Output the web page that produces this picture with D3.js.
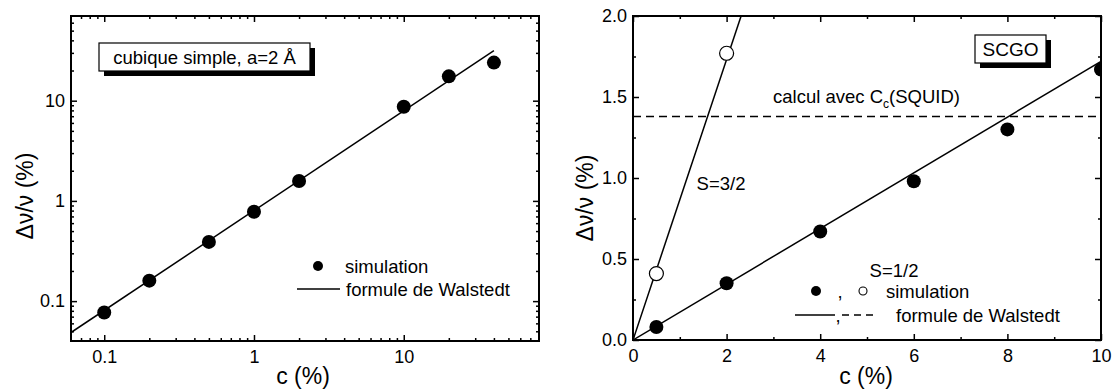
<!DOCTYPE html>
<html><head><meta charset="utf-8">
<script src="https://cdn.jsdelivr.net/npm/d3@7"></script>
<style>
body{margin:0;background:#fff;}
svg{display:block;font-family:"Liberation Sans",Arial,Helvetica,sans-serif;}
</style></head><body>
<svg id="c" width="1112" height="390"></svg>
<script>
// ---- Left panel data (log-log) ----
const leftC = [0.1, 0.2, 0.5, 1, 2, 10, 20, 40];
const leftDv = [0.077, 0.16, 0.39, 0.78, 1.58, 8.7, 17.5, 24];
const leftFitC = [0.06, 40];
const leftFitDv = [0.0486, 31.6];
const leftXMajor = [0.1, 1, 10];
const leftYMajor = [0.1, 1, 10];
const leftXLabels = ["0.1", "1", "10"];
const leftYLabels = ["0.1", "1", "10"];

// ---- Right panel data (linear) ----
const rightFilledC = [0.5, 2, 4, 6, 8, 10];
const rightFilledDv = [0.08, 0.35, 0.67, 0.98, 1.30, 1.67];
const rightOpenC = [0.5, 2];
const rightOpenDv = [0.41, 1.77];
const rightFitHalfC = [0, 10];
const rightFitHalfDv = [0, 1.72];
const rightFitThreeC = [0, 2.31];
const rightFitThreeDv = [0, 2.0];
const rightSquidDv = 1.38;
const rightXMajor = [0, 2, 4, 6, 8, 10];
const rightXMinor = [1, 3, 5, 7, 9];
const rightYMajor = [0, 0.5, 1.0, 1.5, 2.0];
const rightYMinor = [0.25, 0.75, 1.25, 1.75];

const svg = d3.select("#c");
const TICKFS = 18, TITLEFS = 23, TXTFS = 18.5;

function minorLog(lo, hi){
  const out=[];
  for(let e=Math.floor(Math.log10(lo)); e<=Math.ceil(Math.log10(hi)); e++){
    for(let m=2;m<=9;m++){const v=m*Math.pow(10,e); if(v>lo*1.0001 && v<hi*0.9999) out.push(v);}
  }
  return out;
}

function frameAxes(g, x, y, W, H, xMaj, xMin, yMaj, yMin, xFmt, yFmt){
  const styleAx = s => { s.select(".domain").remove(); s.selectAll("line").attr("stroke","#000").attr("stroke-width",1.5); s.selectAll("text").attr("font-size",TICKFS).attr("fill","#000").attr("font-family","Liberation Sans, Arial, sans-serif"); };
  g.append("g").attr("transform",`translate(0,${H})`).call(d3.axisBottom(x).tickValues(xMaj).tickSize(-6).tickPadding(9).tickFormat(xFmt)).call(styleAx);
  g.append("g").attr("transform",`translate(0,${H})`).call(d3.axisBottom(x).tickValues(xMin).tickSize(-3).tickFormat("")).call(styleAx);
  g.append("g").call(d3.axisTop(x).tickValues(xMaj).tickSize(-6).tickFormat("")).call(styleAx);
  g.append("g").call(d3.axisTop(x).tickValues(xMin).tickSize(-3).tickFormat("")).call(styleAx);
  g.append("g").call(d3.axisLeft(y).tickValues(yMaj).tickSize(-6).tickPadding(6).tickFormat(yFmt)).call(styleAx);
  g.append("g").call(d3.axisLeft(y).tickValues(yMin).tickSize(-3).tickFormat("")).call(styleAx);
  g.append("g").attr("transform",`translate(${W},0)`).call(d3.axisRight(y).tickValues(yMaj).tickSize(-6).tickFormat("")).call(styleAx);
  g.append("g").attr("transform",`translate(${W},0)`).call(d3.axisRight(y).tickValues(yMin).tickSize(-3).tickFormat("")).call(styleAx);
  g.append("rect").attr("width",W).attr("height",H).attr("fill","none").attr("stroke","#000").attr("stroke-width",2);
}

// ================= LEFT PANEL =================
{
  const L=71, T=16, W=468, H=325;
  const g = svg.append("g").attr("transform",`translate(${L},${T})`);
  const x = d3.scaleLog().domain([0.06,80]).range([0,W]);
  const y = d3.scaleLog().domain([0.04,70]).range([H,0]);
  g.append("clipPath").attr("id","clipL").append("rect").attr("width",W).attr("height",H);
  const plot = g.append("g").attr("clip-path","url(#clipL)");
  const line = d3.line().x(d=>x(d[0])).y(d=>y(d[1]));
  plot.append("path").datum(d3.zip(leftFitC,leftFitDv)).attr("d",line).attr("fill","none").attr("stroke","#000").attr("stroke-width",1.5);
  plot.selectAll("circle.pt").data(d3.zip(leftC,leftDv)).join("circle").attr("class","pt")
    .attr("cx",d=>x(d[0])).attr("cy",d=>y(d[1])).attr("r",7).attr("fill","#000");
  frameAxes(g,x,y,W,H,leftXMajor,minorLog(0.06,80),leftYMajor,minorLog(0.04,70),
    (d,i)=>leftXLabels[leftXMajor.indexOf(d)], d=>leftYLabels[leftYMajor.indexOf(d)]);
  // label box with shadow
  const bx=99-L, by=43-T, bw=211, bh=28;
  g.append("rect").attr("x",bx+5).attr("y",by+5).attr("width",bw).attr("height",bh).attr("fill","#000");
  g.append("rect").attr("x",bx).attr("y",by).attr("width",bw).attr("height",bh).attr("fill","#fff").attr("stroke","#000").attr("stroke-width",1.2);
  g.append("text").attr("x",bx+bw/2).attr("y",by+bh/2).attr("dy","0.36em").attr("text-anchor","middle").attr("font-size",TXTFS).text("cubique simple, a=2 Å");
  // legend
  g.append("circle").attr("cx",318-L).attr("cy",266-T).attr("r",5).attr("fill","#000");
  g.append("text").attr("x",345-L).attr("y",266-T).attr("dy","0.36em").attr("font-size",TXTFS).text("simulation");
  g.append("line").attr("x1",297-L).attr("x2",340-L).attr("y1",289-T).attr("y2",289-T).attr("stroke","#000").attr("stroke-width",1.5);
  g.append("text").attr("x",346-L).attr("y",289-T).attr("dy","0.36em").attr("font-size",TXTFS).text("formule de Walstedt");
  // axis titles
  svg.append("text").attr("x",303).attr("y",384).attr("text-anchor","middle").attr("font-size",TITLEFS).text("c (%)");
  svg.append("text").attr("transform","translate(33,196) rotate(-90)").attr("text-anchor","middle").attr("font-size",TITLEFS).text("Δν/ν (%)");
}

// ================= RIGHT PANEL =================
{
  const L=633, T=16, W=468, H=324;
  const g = svg.append("g").attr("transform",`translate(${L},${T})`);
  const x = d3.scaleLinear().domain([0,10]).range([0,W]);
  const y = d3.scaleLinear().domain([0,2]).range([H,0]);
  g.append("clipPath").attr("id","clipR").append("rect").attr("width",W).attr("height",H);
  const plot = g.append("g").attr("clip-path","url(#clipR)");
  const line = d3.line().x(d=>x(d[0])).y(d=>y(d[1]));
  plot.append("path").datum(d3.zip(rightFitHalfC,rightFitHalfDv)).attr("d",line).attr("fill","none").attr("stroke","#000").attr("stroke-width",1.5);
  plot.append("path").datum(d3.zip(rightFitThreeC,rightFitThreeDv)).attr("d",line).attr("fill","none").attr("stroke","#000").attr("stroke-width",1.5);
  plot.append("line").attr("x1",x(0)).attr("x2",x(10)).attr("y1",y(rightSquidDv)).attr("y2",y(rightSquidDv))
    .attr("stroke","#000").attr("stroke-width",1.5).attr("stroke-dasharray","8,5");
  plot.selectAll("circle.f").data(d3.zip(rightFilledC,rightFilledDv)).join("circle").attr("class","f")
    .attr("cx",d=>x(d[0])).attr("cy",d=>y(d[1])).attr("r",7).attr("fill","#000");
  plot.selectAll("circle.o").data(d3.zip(rightOpenC,rightOpenDv)).join("circle").attr("class","o")
    .attr("cx",d=>x(d[0])).attr("cy",d=>y(d[1])).attr("r",7).attr("fill","#fff").attr("stroke","#000").attr("stroke-width",1.2);
  frameAxes(g,x,y,W,H,rightXMajor,rightXMinor,rightYMajor,rightYMinor, d3.format("d"), d3.format(".1f"));
  // SCGO box
  const bx=975-L, by=35-T, bw=71, bh=28;
  g.append("rect").attr("x",bx+5).attr("y",by+5).attr("width",bw).attr("height",bh).attr("fill","#000");
  g.append("rect").attr("x",bx).attr("y",by).attr("width",bw).attr("height",bh).attr("fill","#fff").attr("stroke","#000").attr("stroke-width",1.2);
  g.append("text").attr("x",bx+bw/2).attr("y",by+bh/2).attr("dy","0.36em").attr("text-anchor","middle").attr("font-size",19).text("SCGO");
  // annotations
  const t = g.append("text").attr("x",773-L).attr("y",103-T).attr("font-size",TXTFS);
  t.append("tspan").text("calcul avec C");
  t.append("tspan").attr("font-size",12).attr("dy",5).text("c");
  t.append("tspan").attr("dy",-5).text("(SQUID)");
  g.append("text").attr("x",721-L).attr("y",183-T).attr("dy","0.36em").attr("text-anchor","middle").attr("font-size",TXTFS).text("S=3/2");
  g.append("text").attr("x",894-L).attr("y",270-T).attr("dy","0.36em").attr("text-anchor","middle").attr("font-size",TXTFS).text("S=1/2");
  // legend
  g.append("circle").attr("cx",816-L).attr("cy",291-T).attr("r",5).attr("fill","#000");
  g.append("text").attr("x",840-L).attr("y",291-T).attr("dy","0.36em").attr("text-anchor","middle").attr("font-size",TXTFS).text(",");
  g.append("circle").attr("cx",863-L).attr("cy",291-T).attr("r",4).attr("fill","#fff").attr("stroke","#000").attr("stroke-width",1.1);
  g.append("text").attr("x",886-L).attr("y",291-T).attr("dy","0.36em").attr("font-size",TXTFS).text("simulation");
  g.append("line").attr("x1",795-L).attr("x2",835-L).attr("y1",315-T).attr("y2",315-T).attr("stroke","#000").attr("stroke-width",1.5);
  g.append("text").attr("x",838-L).attr("y",315-T).attr("dy","0.36em").attr("text-anchor","middle").attr("font-size",TXTFS).text(",");
  g.append("line").attr("x1",842-L).attr("x2",877-L).attr("y1",315-T).attr("y2",315-T).attr("stroke","#000").attr("stroke-width",1.5).attr("stroke-dasharray","7,5");
  g.append("text").attr("x",896-L).attr("y",315-T).attr("dy","0.36em").attr("font-size",TXTFS).text("formule de Walstedt");
  // axis titles
  svg.append("text").attr("x",866).attr("y",384).attr("text-anchor","middle").attr("font-size",TITLEFS).text("c (%)");
  svg.append("text").attr("transform","translate(593,198) rotate(-90)").attr("text-anchor","middle").attr("font-size",TITLEFS).text("Δν/ν (%)");
}
</script></body></html>
